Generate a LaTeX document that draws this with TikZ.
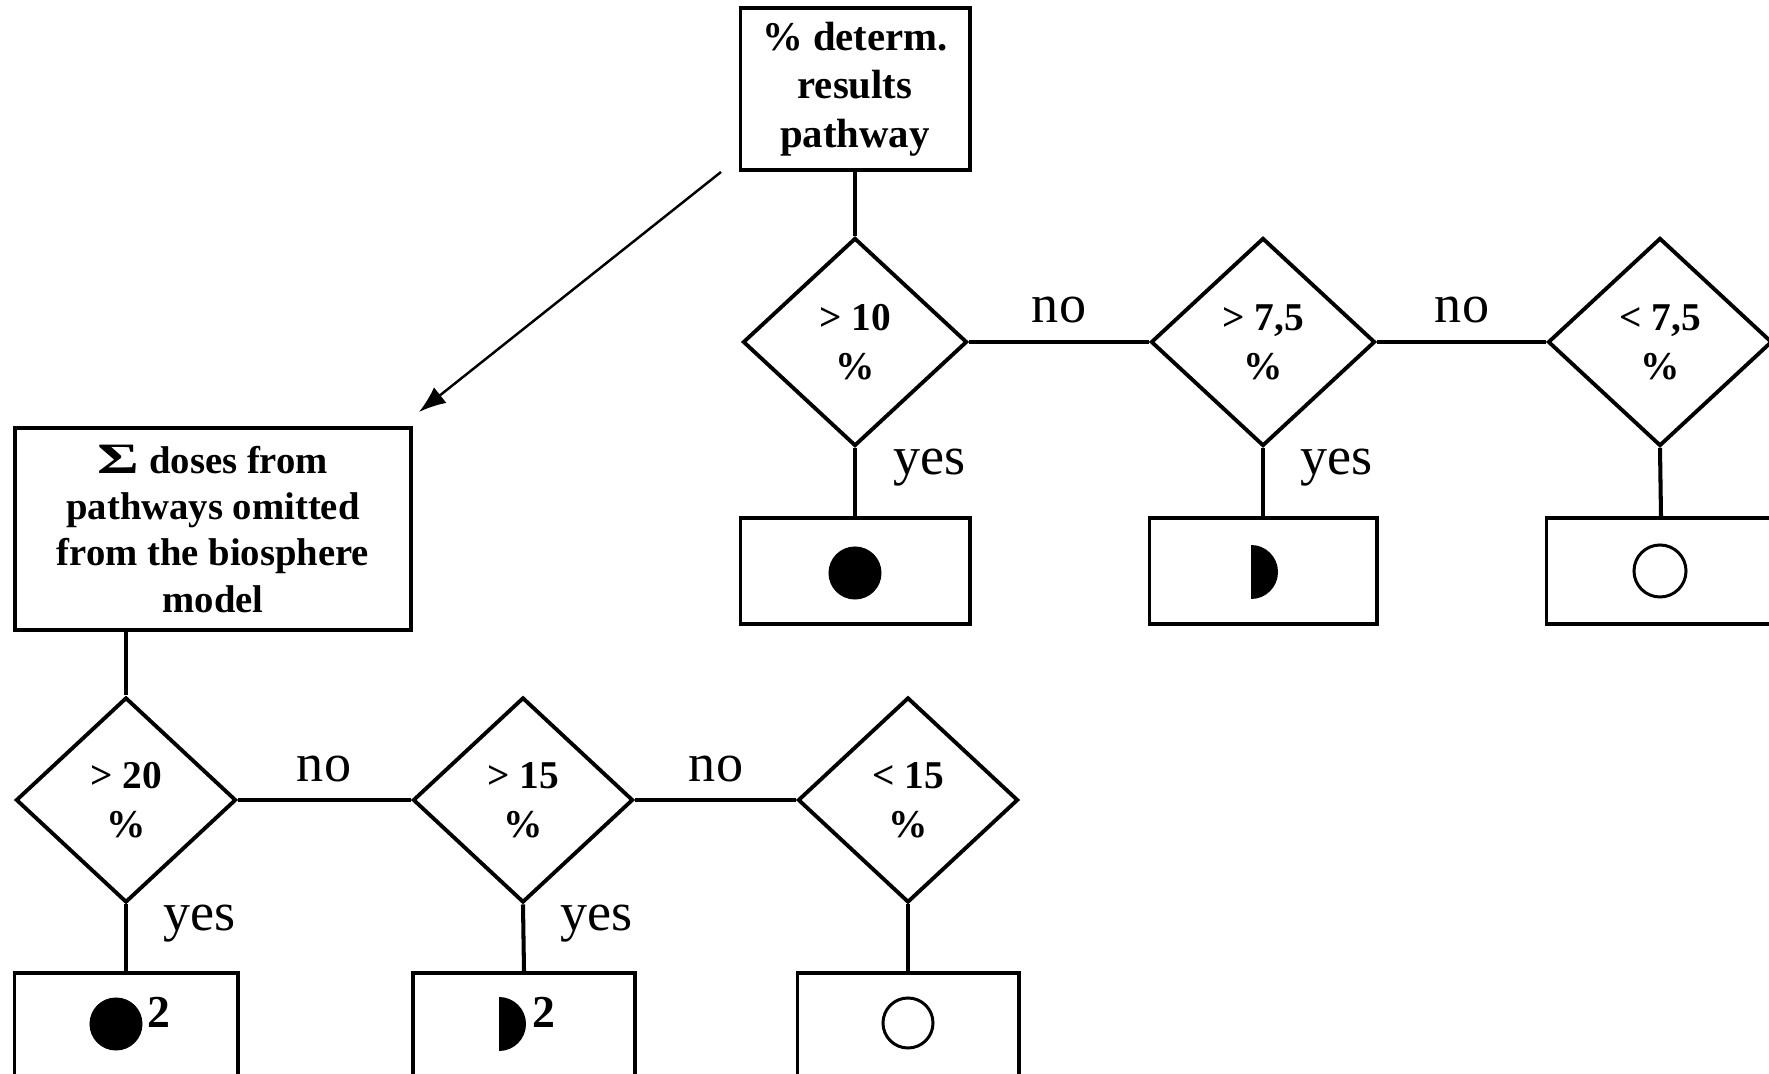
\documentclass[tikz,border=0pt]{standalone}
\usepackage{fontspec}
\usepackage{graphicx}
\setmainfont{Liberation Serif}
\usetikzlibrary{shapes.geometric,arrows.meta}
\begin{document}
\begin{tikzpicture}[x=0.01cm,y=-0.01cm,
  box/.style={draw, line width=1.1pt, inner sep=0pt, align=center,
    font=\bfseries\fontsize{11}{13.2}\selectfont},
  cond/.style={draw, diamond, line width=1.1pt, inner sep=0pt,
    minimum width=2.24cm, minimum height=2.08cm, align=center,
    font=\bfseries\fontsize{11.2}{13.9}\selectfont},
  res/.style={draw, line width=1.1pt, minimum height=1.06cm, inner sep=0pt},
  link/.style={line width=1.15pt},
  lbl/.style={inner sep=0pt, font=\fontsize{15.4}{18}\selectfont},
  supnum/.style={inner sep=0pt, anchor=base west,
    font=\bfseries\fontsize{13}{15}\selectfont},
  dot/.style={circle, fill, inner sep=0pt, minimum size=0.53cm},
  ring/.style={circle, draw, line width=0.85pt, inner sep=0pt, minimum size=0.5cm},
]
\useasboundingbox (0,0) rectangle (1769,1074);

% ---- upper decision chain ----
\node[box, minimum width=2.29cm, minimum height=1.62cm,
  font=\bfseries\fontsize{11.6}{13.8}\selectfont] (top) at (855,89)
  {\% determ.\\results\\pathway};

\node[cond] (dA) at (855,342) {> 10\\\%};
\node[cond] (dB) at (1263,342) {> 7,5\\\%};
\node[cond] (dC) at (1660,342) {< 7,5\\\%};

\node[res, minimum width=2.29cm] (rA) at (855,571) {};
\node[res, minimum width=2.27cm] (rB) at (1263,571) {};
\node[res, minimum width=2.29cm] (rC) at (1661,571) {};

\node[dot] (sA) at (855,573) {};
\fill (1251,545) arc[start angle=90, end angle=-90, radius=0.27cm] -- cycle;
\node[ring, minimum size=0.52cm] (sC) at (1660,571) {};

\draw[link] (top.south) -- (dA.north);
\draw[link] (dA.east) -- (dB.west);
\draw[link] (dB.east) -- (dC.west);
\draw[link] (dA.south) -- (rA.north);
\draw[link] (dB.south) -- (rB.north);
\draw[link] (dC.south) -- (rC.north);

\node[lbl, anchor=base] (noA) at (1059,323) {no};
\node[lbl, anchor=base] (noB) at (1462,323) {no};
\node[lbl, anchor=base west] (yesA) at (893,475) {yes};
\node[lbl, anchor=base west] (yesB) at (1300,475) {yes};

% ---- arrow to the lower chain ----
\coordinate (arrstart) at (721,172);
\coordinate (arrend) at (419,412);
\draw[line width=0.7pt, -{Latex[length=0.27cm,width=0.2cm]}] (arrstart) -- (arrend);

% ---- lower decision chain ----
\node[box, minimum width=3.96cm, minimum height=2.02cm] (big) at (213,529)
  {\raisebox{-0.2pt}{\scalebox{1.65}[1.12]{Σ}} doses from\\pathways omitted\\from the biosphere\\model};

\node[cond, minimum width=2.2cm, minimum height=2.05cm] (dD) at (126,800) {> 20\\\%};
\node[cond, minimum width=2.2cm, minimum height=2.05cm] (dE) at (523,800) {> 15\\\%};
\node[cond, minimum width=2.2cm, minimum height=2.05cm] (dF) at (908,800) {< 15\\\%};

\node[res, minimum width=2.23cm] (rD) at (126,1026) {};
\node[res, minimum width=2.22cm] (rE) at (524,1026) {};
\node[res, minimum width=2.21cm] (rF) at (908,1026) {};

\node[dot] (sD) at (116,1024) {};
\node[supnum] (twoD) at (147,1028) {2};
\fill (499,997) arc[start angle=90, end angle=-90, radius=0.27cm] -- cycle;
\node[supnum] (twoE) at (532,1028) {2};
\node[ring] (sF) at (908,1023) {};

\draw[link] (big.south -| dD.north) -- (dD.north);
\draw[link] (dD.east) -- (dE.west);
\draw[link] (dE.east) -- (dF.west);
\draw[link] (dD.south) -- (rD.north);
\draw[link] (dE.south) -- (rE.north);
\draw[link] (dF.south) -- (rF.north);

\node[lbl, anchor=base] (noD) at (324,782) {no};
\node[lbl, anchor=base] (noE) at (716,782) {no};
\node[lbl, anchor=base west] (yesD) at (163,931) {yes};
\node[lbl, anchor=base west] (yesE) at (560,931) {yes};
\end{tikzpicture}
\end{document}
